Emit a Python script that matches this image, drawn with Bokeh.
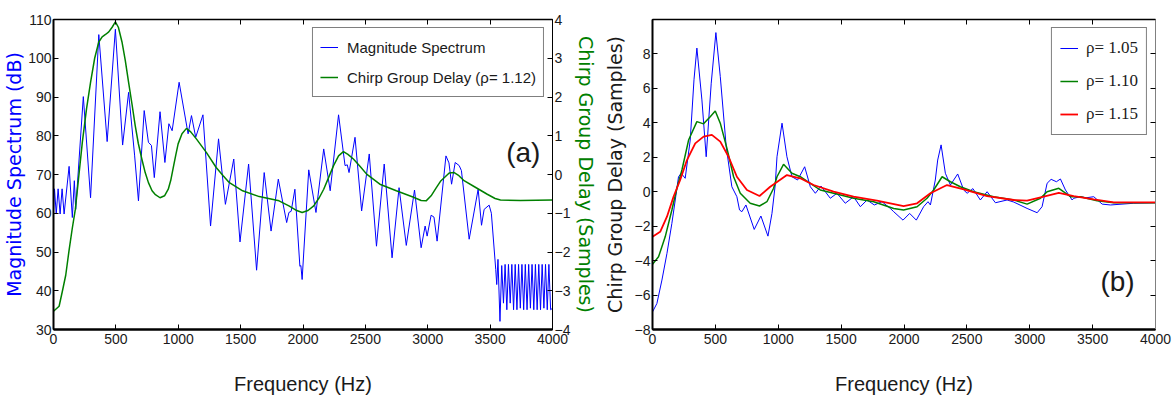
from bokeh.plotting import figure
from bokeh.models import (Range1d, LinearAxis, Legend, Label,
                          CustomJSTickFormatter, FixedTicker)
from bokeh.layouts import row
from bokeh.embed import file_html
from bokeh.resources import INLINE

# ---------------- data: panel (a) ----------------
mag_freq = [0, 8, 22, 37, 53, 69, 85, 125, 151, 167, 178, 239, 297, 363, 430, 496,
            554, 602, 650, 681, 727, 761, 785, 808, 854, 893, 925, 951, 1007, 1079,
            1106, 1140, 1198, 1259, 1323, 1378, 1445, 1495, 1564, 1628, 1689, 1744,
            1802, 1869, 1887, 1905, 1935, 1975, 1983, 1993, 2046, 2104, 2166, 2218,
            2285, 2337, 2355, 2369, 2417, 2470, 2531, 2589, 2651, 2714, 2770, 2828,
            2894, 2947, 2979, 2995, 3027, 3050, 3075, 3146, 3170, 3191, 3220, 3252,
            3270, 3332, 3404, 3431, 3452, 3492, 3510, 3545, 3553, 3563, 3579,
            3593, 3607, 3620, 3634, 3647, 3661, 3674, 3688, 3701, 3715, 3728, 3742,
            3755, 3769, 3782, 3796, 3809, 3823, 3836, 3850, 3863, 3877, 3890, 3904,
            3917, 3931, 3944, 3958, 3971, 3985, 4000]
mag_db = [60.5, 66.3, 59.8, 66.3, 59.8, 66.3, 59.8, 72.1, 58.9, 68.4, 61.0, 90.1,
          64.0, 106.1, 78.5, 107.5, 77.6, 91.2, 75.0, 63.2, 86.5, 78.3, 77.5, 69.2,
          86.2, 73.1, 83.1, 81.3, 93.8, 80.5, 85.2, 79.6, 85.4, 56.7, 79.2, 62.3,
          74.0, 52.6, 72.7, 45.3, 70.5, 55.4, 68.8, 57.6, 60.2, 60.5, 66.2, 46.3,
          46.5, 42.9, 71.2, 60.2, 76.6, 65.8, 85.4, 72.3, 72.5, 70.5, 79.6, 60.6,
          75.3, 51.5, 72.7, 48.5, 66.6, 51.7, 66.0, 51.1, 56.7, 54.1, 59.5, 59.0,
          52.8, 74.8, 73.0, 67.5, 73.1, 72.3, 71.0, 53.3, 66.2, 56.9, 61.0, 62.1,
          60.0, 45.5, 41.6, 48.1, 32.1,
          46.5, 36.8, 46.8, 35.1, 46.8, 36.8, 46.8, 35.1, 46.8, 35.1, 46.8, 35.5,
          46.8, 35.1, 46.8, 35.1, 46.8, 35.5, 46.8, 35.1, 46.8, 35.1, 46.8, 35.1,
          46.8, 35.5, 46.8, 35.1, 46.8, 35.1, 35.5]

gd_freq = [0, 45, 72, 98, 125, 150, 175, 200, 231, 265, 297, 330, 363, 390, 420,
           443, 470, 496, 520, 549, 575, 602, 630, 655, 680, 708, 735, 761, 790,
           814, 854, 890, 920, 940, 960, 980, 999, 1030, 1066, 1100, 1145, 1225,
           1304, 1360, 1410, 1516, 1649, 1808, 1887, 1950, 1993, 2040, 2086, 2130,
           2166, 2205, 2245, 2285, 2324, 2360, 2404, 2460, 2510, 2616, 2748, 2881,
           2947, 2987, 3027, 3065, 3106, 3172, 3212, 3250, 3291, 3371, 3477, 3540,
           3583, 3742, 4000]
gd_112 = [-3.53, -3.4, -3.0, -2.6, -1.95, -1.4, -0.9, -0.13, 0.83, 1.7, 2.38, 3.0,
          3.42, 3.55, 3.62, 3.68, 3.8, 3.94, 3.8, 3.42, 2.95, 2.38, 1.8, 1.26, 0.8,
          0.4, 0.05, -0.21, -0.42, -0.51, -0.6, -0.55, -0.38, -0.15, 0.18, 0.5,
          0.79, 1.05, 1.19, 1.1, 0.92, 0.57, 0.18, -0.03, -0.21, -0.42, -0.57,
          -0.68, -0.81, -0.93, -0.98, -0.93, -0.81, -0.6, -0.38, -0.08, 0.23, 0.48,
          0.59, 0.52, 0.4, 0.2, 0.01, -0.25, -0.42, -0.58, -0.67, -0.68, -0.55,
          -0.36, -0.16, 0.04, 0.05, -0.03, -0.16, -0.31, -0.51, -0.62, -0.66,
          -0.67, -0.66]

# ---------------- data: panel (b) ----------------
f105 = [0, 35, 75, 115, 154, 181, 207, 228, 260, 300, 330, 353, 393, 427, 467, 504,
        539, 586, 631, 671, 692, 711, 743, 809, 862, 918, 950, 976, 990, 1030, 1069,
        1109, 1154, 1210, 1255, 1295, 1340, 1414, 1467, 1533, 1599, 1653, 1706,
        1764, 1825, 1891, 1918, 1992, 2045, 2098, 2156, 2191, 2210, 2249, 2268,
        2295, 2329, 2369, 2427, 2475, 2502, 2548, 2607, 2661, 2727, 2820, 2873,
        2979, 3059, 3098, 3138, 3170, 3212, 3244, 3284, 3337, 3350, 3403, 3450,
        3509, 3576, 3642, 3827, 4000]
gd105 = [-6.98, -6.49, -5.13, -3.58, -1.84, -0.48, 0.87, 1.07, 0.78, 3.0, 6.5, 8.34,
         5.33, 2.03, 6.3, 9.24, 6.69, 2.62, 0.29, -0.29, -1.06, -1.16, -0.77, -2.19,
         -1.41, -2.58, -1.26, 0.39, 2.03, 3.98, 2.03, 0.87, 0.68, 1.45, 0.29, -0.09,
         0.33, -0.38, -0.09, -0.67, -0.29, -0.87, -0.48, -0.77, -0.58, -0.97, -1.16,
         -1.65, -1.26, -1.65, -0.87, -0.58, -0.77, 0.68, 1.84, 2.72, 1.07, 0.39,
         1.03, 0.1, -0.09, 0.18, -0.48, 0.0, -0.64, -0.48, -0.6, -0.97, -1.22,
         -0.87, 0.49, 0.72, 0.58, 0.74, 0.1, -0.48, -0.38, -0.29, -0.35, -0.29,
         -0.72, -0.77, -0.67, -0.64]

f110 = [0, 48, 101, 154, 194, 234, 287, 353, 406, 459, 499, 539, 592, 645, 698, 777,
        851, 910, 963, 990, 1042, 1109, 1175, 1255, 1334, 1440, 1599, 1759, 1918,
        1997, 2104, 2183, 2236, 2303, 2369, 2448, 2554, 2713, 2873, 2979, 3085,
        3138, 3231, 3324, 3403, 3536, 3668, 4000]
gd110 = [-4.22, -3.78, -2.62, -1.06, 0.2, 1.26, 3.0, 4.07, 3.94, 4.36, 4.69, 3.98,
         2.52, 0.87, -0.09, -0.67, -0.83, -0.58, 0.2, 0.87, 1.59, 1.07, 0.87, 0.49,
         0.1, -0.09, -0.38, -0.58, -0.97, -1.06, -0.87, -0.38, 0.1, 0.87, 0.58,
         0.29, 0.0, -0.29, -0.48, -0.72, -0.38, 0.0, 0.2, -0.29, -0.29, -0.52,
         -0.64, -0.64]

f115 = [0, 61, 115, 167, 220, 274, 340, 406, 472, 539, 605, 671, 751, 851, 936, 976,
        1069, 1175, 1281, 1440, 1599, 1785, 1997, 2104, 2210, 2342, 2475, 2661,
        2873, 2979, 3111, 3231, 3350, 3509, 3668, 4000]
gd115 = [-2.62, -2.33, -1.45, -0.29, 0.68, 1.84, 2.81, 3.2, 3.3, 2.91, 2.03, 0.87,
         0.1, -0.25, 0.29, 0.49, 0.97, 0.78, 0.39, 0.0, -0.29, -0.52, -0.83, -0.67,
         -0.09, 0.39, 0.14, -0.25, -0.48, -0.52, -0.29, -0.06, -0.25, -0.44,
         -0.62, -0.62]

x_ticks = [0, 500, 1000, 1500, 2000, 2500, 3000, 3500, 4000]
db_ticks = [30, 40, 50, 60, 70, 80, 90, 100, 110]
gd_ticks_a = [-4, -3, -2, -1, 0, 1, 2, 3, 4]
gd_ticks_b = [-8, -6, -4, -2, 0, 2, 4, 6, 8]

# ---------------- styling helpers ----------------
SANS = "Liberation Sans"
WIDE = "DejaVu Sans"
SERIF = "Liberation Serif"

minus_fmt = "return tick < 0 ? '\u2212' + Math.abs(tick) : String(tick);"
blank_fmt = "return '';"


def style_axis(ax, ticks, labels=True, line_width=1.0):
    ax.ticker = FixedTicker(ticks=ticks)
    ax.major_tick_in = 5
    ax.major_tick_out = 0
    ax.minor_tick_line_color = None
    ax.axis_line_color = "black"
    ax.axis_line_width = line_width
    ax.major_tick_line_color = "black"
    ax.major_label_text_font = SANS
    ax.major_label_text_font_size = "14px"
    ax.major_label_text_color = "#1a1a1a"
    ax.major_label_standoff = 2
    if labels:
        ax.formatter = CustomJSTickFormatter(code=minus_fmt)
    else:
        ax.formatter = CustomJSTickFormatter(code=blank_fmt)


def base_figure(width, y0, y1, bl, br):
    p = figure(width=width, height=410, x_range=Range1d(0, 4000),
               y_range=Range1d(y0, y1), output_backend="svg",
               toolbar_location=None, min_border_left=bl, min_border_right=br,
               min_border_top=19, min_border_bottom=81)
    p.xgrid.visible = False
    p.ygrid.visible = False
    p.outline_line_color = "black"
    p.outline_line_width = 1
    p.background_fill_color = "white"
    p.border_fill_color = "white"
    style_axis(p.xaxis[0], x_ticks, True, 2.5)
    p.xaxis.major_label_standoff = 4
    p.xaxis.axis_label = "Frequency (Hz)"
    p.xaxis.axis_label_text_font = SANS
    p.xaxis.axis_label_text_font_size = "20px"
    p.xaxis.axis_label_text_font_style = "normal"
    p.xaxis.axis_label_text_color = "#1a1a1a"
    p.xaxis.axis_label_standoff = 26
    top = LinearAxis()
    style_axis(top, x_ticks, False, 1.5)
    p.add_layout(top, "above")
    return p


# ---------------- panel (a) ----------------
p1 = base_figure(600, 30, 110, 49, 48)
p1.extra_y_ranges = {"gd": Range1d(-4, 4)}
style_axis(p1.yaxis[0], db_ticks, True, 2)
p1.yaxis.axis_label = "Magnitude Spectrum (dB)"
p1.yaxis.axis_label_text_font = WIDE
p1.yaxis.axis_label_text_font_size = "19px"
p1.yaxis.axis_label_text_font_style = "normal"
p1.yaxis.axis_label_text_color = "#0000ff"
p1.yaxis.axis_label_standoff = 0

ax_r = LinearAxis(y_range_name="gd", axis_label="Chirp Group Delay (Samples)")
style_axis(ax_r, gd_ticks_a, True, 1)
ax_r.axis_label_text_font = WIDE
ax_r.axis_label_text_font_size = "19px"
ax_r.axis_label_text_font_style = "normal"
ax_r.axis_label_text_color = "#008000"
ax_r.axis_label_standoff = 2
p1.add_layout(ax_r, "right")

r_mag = p1.line(mag_freq, mag_db, line_color="#0000ff", line_width=1)
r_gd = p1.line(gd_freq, gd_112, line_color="#008000", line_width=1.5,
               y_range_name="gd")

leg1 = Legend(items=[("Magnitude Spectrum", [r_mag]),
                     ("Chirp Group Delay (\u03c1= 1.12)", [r_gd])],
              location="top_right")
leg1.label_text_font = SANS
leg1.label_text_font_size = "15px"
leg1.label_text_color = "#1a1a1a"
leg1.label_height = 24
leg1.border_line_color = "black"
leg1.border_line_width = 1.2
leg1.margin = 8
leg1.padding = 7
leg1.spacing = 6
leg1.glyph_width = 18
leg1.label_standoff = 9
p1.add_layout(leg1)

p1.add_layout(Label(x=3766, y=75.6, text="(a)", text_align="center",
                    text_baseline="middle", text_font=SANS,
                    text_font_size="28px", text_color="#1a1a1a"))

# ---------------- panel (b) ----------------
p2 = base_figure(575, -8, 10, 52, 20)
style_axis(p2.yaxis[0], gd_ticks_b, True, 2)
p2.yaxis.axis_label = "Chirp Group Delay (Samples)"
p2.yaxis.axis_label_text_font = WIDE
p2.yaxis.axis_label_text_font_size = "19px"
p2.yaxis.axis_label_text_font_style = "normal"
p2.yaxis.axis_label_text_color = "#1a1a1a"
p2.yaxis.axis_label_standoff = 6

ax_r2 = LinearAxis()
style_axis(ax_r2, gd_ticks_b, False, 1)
ax_r2.axis_line_color = "#808080"
p2.add_layout(ax_r2, "right")

r1 = p2.line(f105, gd105, line_color="#0000ff", line_width=1)
r2 = p2.line(f110, gd110, line_color="#008000", line_width=1.5)
r3 = p2.line(f115, gd115, line_color="#ff0000", line_width=1.8)

leg2 = Legend(items=[("\u03c1= 1.05", [r1]), ("\u03c1= 1.10", [r2]),
                     ("\u03c1= 1.15", [r3])], location="top_right")
leg2.label_text_font = SERIF
leg2.label_text_font_size = "17px"
leg2.label_text_color = "#1a1a1a"
leg2.label_height = 24
leg2.border_line_color = "black"
leg2.border_line_width = 1.2
leg2.margin = 8
leg2.padding = 8
leg2.spacing = 9
leg2.glyph_width = 18
leg2.label_standoff = 8
p2.add_layout(leg2)

p2.add_layout(Label(x=3698, y=-5.19, text="(b)", text_align="center",
                    text_baseline="middle", text_font=SANS,
                    text_font_size="28px", text_color="#1a1a1a"))

layout = row(p1, p2)
open("out.html", "w").write(file_html(layout, INLINE))
